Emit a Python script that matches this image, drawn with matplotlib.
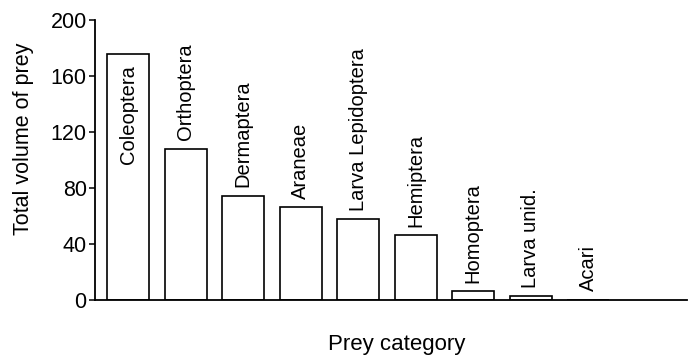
import matplotlib
matplotlib.use('Agg')
import matplotlib.pyplot as plt

plt.rcParams['font.family'] = ['Liberation Sans', 'DejaVu Sans']

# prey categories and their total volume
categories = ['Coleoptera', 'Orthoptera', 'Dermaptera', 'Araneae',
              'Larva Lepidoptera', 'Hemiptera', 'Homoptera', 'Larva unid.', 'Acari']
volumes = [176, 108, 74.5, 66.5, 58, 46.5, 6.5, 3, 0.4]
y_ticks = [0, 40, 80, 120, 160, 200]

fig = plt.figure(figsize=(6.94, 3.56), dpi=100)
ax = fig.add_axes([0.137, 0.157, 0.853, 0.787])

xs = list(range(len(categories)))
ax.bar(xs, volumes, width=0.73, color='white', edgecolor='black', linewidth=1.2)

# category names written vertically; the tallest bar carries its name inside
for x, v, name in zip(xs, volumes, categories):
    if v > 150:
        ax.annotate(name, (x, v), xytext=(0, -8), textcoords='offset points',
                    rotation=90, ha='center', va='top', fontsize=14.5)
    else:
        ax.annotate(name, (x, v), xytext=(0, 6), textcoords='offset points',
                    rotation=90, ha='center', va='bottom', fontsize=14.5)

ax.set_xlim(-0.574, 9.72)
ax.set_ylim(0, 200)
ax.set_yticks(y_ticks)
ax.set_xticks([])
ax.tick_params(axis='y', direction='out', length=4, width=1.1, pad=2, labelsize=15.5)

for side in ['top', 'right']:
    ax.spines[side].set_visible(False)
for side in ['left', 'bottom']:
    ax.spines[side].set_linewidth(1.3)

ax.set_ylabel('Total volume of prey', fontsize=15.5)
ax.yaxis.set_label_coords(-0.103, 0.575)
ax.set_xlabel('Prey category', fontsize=16)
ax.xaxis.set_label_coords(0.51, -0.12)

fig.savefig('out.png', dpi=100)
